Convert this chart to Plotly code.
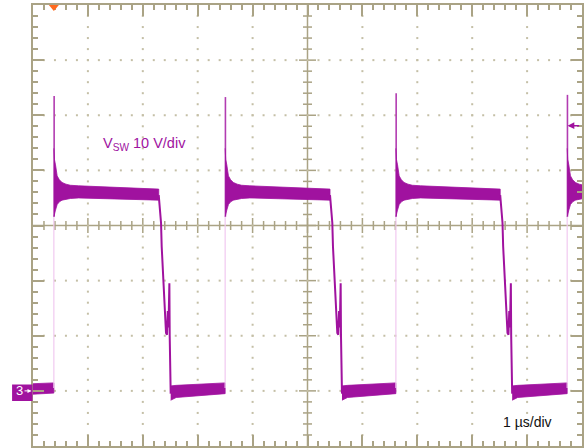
import plotly.graph_objects as go

# ---------------- data ----------------
T_RISE = [0.38, 3.50, 6.61, 9.73]          # µs, rising edges of V_SW
T_FALL = [2.29, 5.41, 8.51]                # µs, start of falling edges
V_SPIKE = [53.5, 53.3, 54.0, 53.7]         # V, overshoot peak at each rising edge
T_END = 10.3                               # last plateau runs off screen

# ringing envelope after a rising edge (time after edge, upper / lower V)
RING_DT = [0.00, 0.01, 0.03, 0.06, 0.10, 0.15, 0.22, 0.30, 0.45]
RING_HI = [44.0, 42.0, 41.0, 39.0, 38.3, 37.8, 37.5, 37.3, 37.2]
RING_LO = [31.6, 32.2, 32.8, 33.8, 34.3, 34.6, 34.8, 34.9, 35.0]
PLAT_END_HI = 36.6                         # plateau envelope just before the fall
PLAT_END_LO = 34.6

# falling edge (time after fall start, V)
FALL_DT = [0.000, 0.013, 0.042, 0.054, 0.073, 0.091, 0.115, 0.133, 0.151,
           0.165, 0.178, 0.194, 0.200, 0.218]
FALL_V = [35.5, 33.8, 30.5, 26.2, 22.0, 17.1, 13.5, 10.5, 10.2,
          14.5, 11.5, 19.5, 10.0, -0.5]

# ground-level band after the fall (time after fall end, upper / lower V)
LOW_DT = [0.00, 0.10]
LOW_HI = [0.9, 1.0]
LOW_LO = [-1.7, -1.2]
LOW_END_HI = 1.45                          # envelope just before the next rise
LOW_END_LO = -0.5
LOW_FIRST_HI = [1.3, 1.45]                 # partial low band at the left edge
LOW_FIRST_LO = [-0.6, -0.4]

X_RANGE = [0, 10]      # 10 div x 1 µs/div
Y_RANGE = [-10, 70]    # 8 div x 10 V/div, ground at -3 div

# ---------------- styling ----------------
W, H = 585, 448
ML, MR, MT, MB = 33, 1, 5, 2
PW, PH = W - ML - MR, H - MT - MB
TRACE = "#a0129f"
SPIKE = "#b23cb1"
FAINT = "#f1c9f0"
FRAME = "#aaa385"
DOT = "#c4bfa6"
FONT = "Liberation Sans, Arial, sans-serif"


def px(x):
    return (x - ML) / PW


def py(y):
    return (H - MB - y) / PH


fig = go.Figure()

# dotted graticule
gx, gy = [], []
for v in [0, 10, 20, 40, 50, 60]:
    for k in range(1, 50):
        gx.append(k * 0.2)
        gy.append(v)
for t in [1, 2, 3, 4, 6, 7, 8, 9]:
    for k in range(1, 40):
        gx.append(t)
        gy.append(-10 + k * 2)
fig.add_trace(go.Scatter(x=gx, y=gy, mode="markers", hoverinfo="skip",
                         marker=dict(symbol="square", size=2, color=DOT, line_width=0)))


def band(t, hi, lo):
    fig.add_trace(go.Scatter(x=list(t) + list(t)[::-1], y=list(hi) + list(lo)[::-1],
                             mode="lines", fill="toself", fillcolor=TRACE,
                             line=dict(color=TRACE, width=0.8), hoverinfo="skip"))


# first partial low band
band([0, T_RISE[0]], LOW_FIRST_HI, LOW_FIRST_LO)

for i, r in enumerate(T_RISE):
    # faint fast edge + overshoot spike
    fig.add_trace(go.Scatter(x=[r, r], y=[0.5, RING_LO[0]], mode="lines",
                             line=dict(color=FAINT, width=1.2), hoverinfo="skip"))
    fig.add_trace(go.Scatter(x=[r + 0.005, r + 0.005], y=[RING_LO[0], V_SPIKE[i]], mode="lines",
                             line=dict(color=SPIKE, width=1.6), hoverinfo="skip"))
    f = T_FALL[i] if i < len(T_FALL) else T_END
    t = [r + d for d in RING_DT] + [f]
    band(t, RING_HI + [PLAT_END_HI], RING_LO + [PLAT_END_LO])
    if i < len(T_FALL):
        fig.add_trace(go.Scatter(x=[f + d for d in FALL_DT], y=FALL_V, mode="lines",
                                 line=dict(color=TRACE, width=2), hoverinfo="skip"))
        s = f + FALL_DT[-1]
        e = T_RISE[i + 1]
        band([s + d for d in LOW_DT] + [e], LOW_HI + [LOW_END_HI], LOW_LO + [LOW_END_LO])

shapes = []
# centre cross
shapes.append(dict(type="line", xref="x", yref="y", x0=0, x1=10, y0=30, y1=30,
                   line=dict(color=FRAME, width=1.5), layer="below"))
shapes.append(dict(type="line", xref="x", yref="y", x0=5, x1=5, y0=-10, y1=70,
                   line=dict(color=FRAME, width=1.5), layer="below"))
for k in range(1, 50):
    t = k * 0.2
    L = 7.5 if k % 5 == 0 else 4.5
    shapes.append(dict(type="line", xref="x", yref="y", ysizemode="pixel", yanchor=30,
                       x0=t, x1=t, y0=-L, y1=L, line=dict(color=FRAME, width=1.5), layer="below"))
for k in range(1, 40):
    v = -10 + k * 2
    L = 8.5 if k % 5 == 0 else 4.5
    shapes.append(dict(type="line", xref="x", yref="y", xsizemode="pixel", xanchor=5,
                       x0=-L, x1=L, y0=v, y1=v, line=dict(color=FRAME, width=1.5), layer="below"))

# trigger position marker (orange triangle at top), placed at the first rising edge
tx = ML + T_RISE[0] / (X_RANGE[1] - X_RANGE[0]) * PW
shapes.append(dict(type="path", xref="paper", yref="paper",
                   path=f"M {px(tx - 5)},{py(5)} L {px(tx + 5)},{py(5)} L {px(tx)},{py(11)} Z",
                   fillcolor="#ff6a1f", line=dict(width=0)))
# channel 3 ground marker box
shapes.append(dict(type="rect", xref="paper", yref="paper", x0=px(12), x1=px(32.5),
                   y0=py(401), y1=py(384.5), fillcolor=TRACE, line=dict(width=0)))

annotations = [
    dict(xref="paper", yref="y", x=px(31.5), y=0, text="3", showarrow=True,
         ax=-12, ay=0, arrowhead=2, arrowsize=0.8, arrowwidth=1, arrowcolor="white",
         standoff=0, font=dict(family=FONT, size=13, color="white")),
    dict(xref="paper", yref="y", x=px(569.5), y=48.1, text="", showarrow=True,
         ax=13, ay=0, arrowhead=2, arrowsize=0.9, arrowwidth=1.5, arrowcolor=TRACE, standoff=0),
    dict(xref="paper", yref="paper", x=px(101.5), y=py(143.5), xanchor="left", yanchor="middle",
         text="V<sub>SW</sub> 10 V/div", showarrow=False,
         font=dict(family=FONT, size=14.5, color=TRACE)),
    dict(xref="paper", yref="paper", x=px(503), y=py(422), xanchor="left", yanchor="middle",
         text="1 µs/div", showarrow=False, font=dict(family=FONT, size=14, color="#111111")),
]

axis_common = dict(showgrid=False, zeroline=False, showticklabels=False, showline=True,
                   linecolor=FRAME, linewidth=2, mirror="ticks", ticks="inside",
                   ticklen=11, tickwidth=1.5, tickcolor=FRAME, fixedrange=True)
fig.update_layout(
    width=W, height=H, margin=dict(l=ML, r=MR, t=MT, b=MB, pad=0),
    paper_bgcolor="white", plot_bgcolor="white", showlegend=False,
    xaxis=dict(range=X_RANGE, dtick=1, tick0=0,
               minor=dict(ticks="inside", ticklen=5, dtick=0.2, tickcolor=FRAME, tickwidth=1.5),
               **axis_common),
    yaxis=dict(range=Y_RANGE, dtick=10, tick0=0,
               minor=dict(ticks="inside", ticklen=5, dtick=2, tickcolor=FRAME, tickwidth=1.5),
               **axis_common),
    shapes=shapes, annotations=annotations,
)

fig.write_html("out.html", config={"displayModeBar": False},
               post_script="document.body.style.margin='0';document.body.style.overflow='hidden';")
